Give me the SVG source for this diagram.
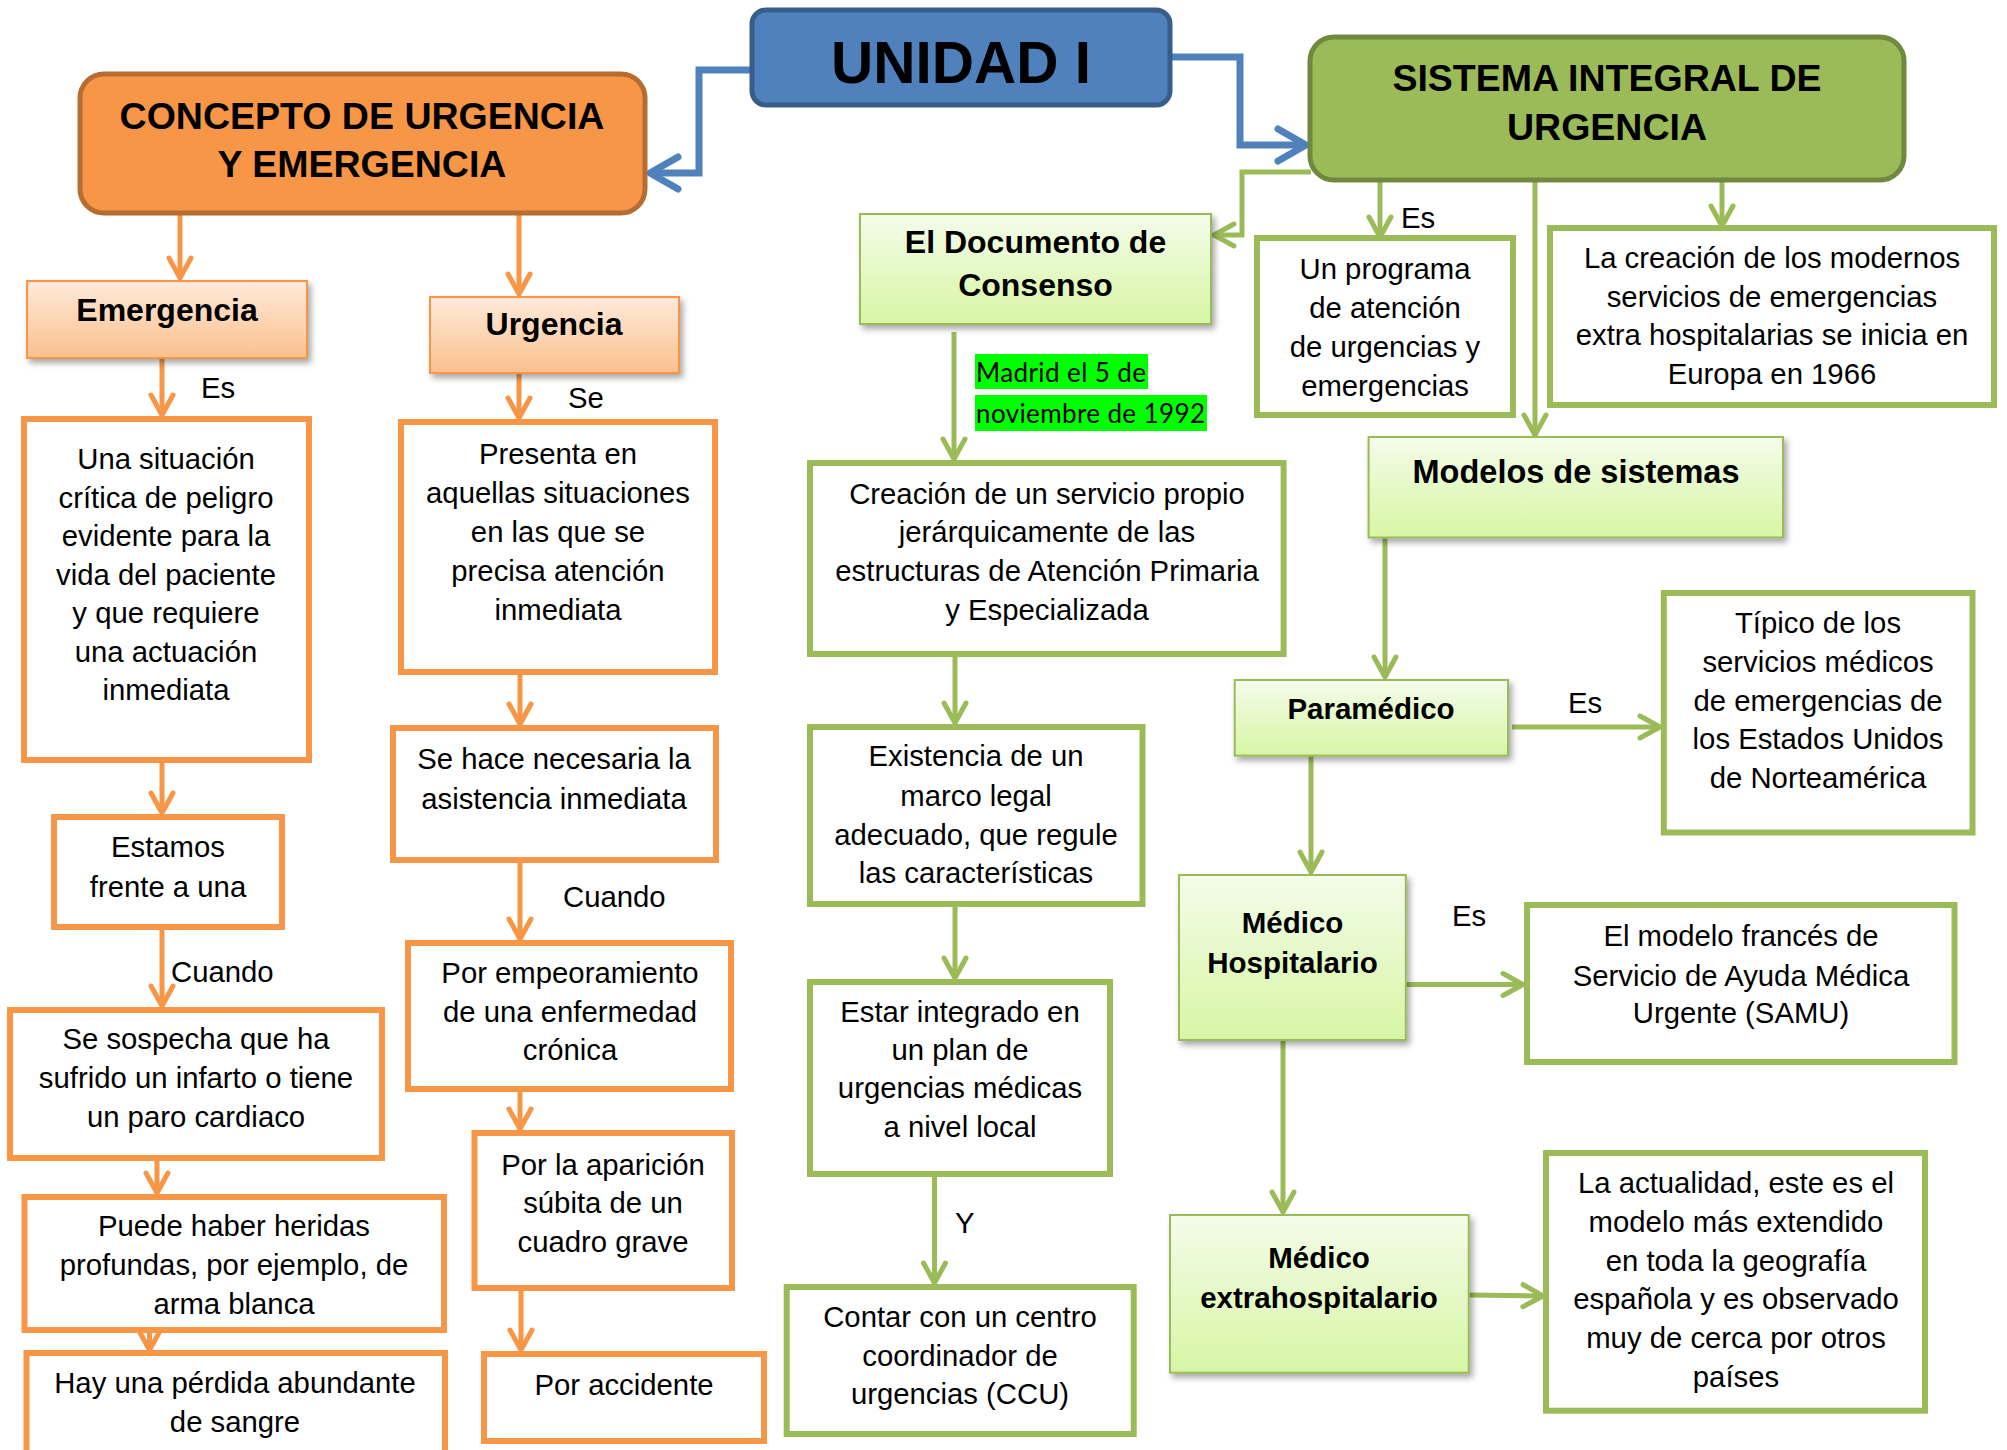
<svg xmlns="http://www.w3.org/2000/svg" width="2007" height="1450" viewBox="0 0 2007 1450">
<defs>
<style>
text{font-family:"Liberation Sans",Arial,sans-serif;fill:#000;text-anchor:middle}
.r{font-size:29.3px}
.b{font-size:32px;font-weight:bold}
.bs{font-size:29.5px;font-weight:bold}
.t{font-size:37.5px;font-weight:bold}
.lbl{font-size:29.3px;text-anchor:start}
.ow{fill:#fff;stroke:#F79646;stroke-width:6}
.gw{fill:#fff;stroke:#9BBB59;stroke-width:6}
.og{fill:url(#gOr);stroke:#F79646;stroke-width:2;filter:url(#sh)}
.gg{fill:url(#gGr);stroke:#9BBB59;stroke-width:2;filter:url(#sh)}
.co{fill:none;stroke:#F79646;stroke-width:5;marker-end:url(#ao)}
.cg{fill:none;stroke:#9BBB59;stroke-width:5;marker-end:url(#ag)}
.cb{fill:none;stroke:#4F81BD;stroke-width:7;marker-end:url(#ab)}
.hl{fill:#00FF00}
.hlt{font-family:Lato,"Open Sans",sans-serif;font-size:26px;text-anchor:start}
</style>
<linearGradient id="gOr" x1="0" y1="0" x2="0" y2="1">
<stop offset="0" stop-color="#FEEADB"/>
<stop offset="1" stop-color="#FBC08C"/>
</linearGradient>
<linearGradient id="gGr" x1="0" y1="0" x2="0" y2="1">
<stop offset="0" stop-color="#F4FCEA"/>
<stop offset="1" stop-color="#D7F6A4"/>
</linearGradient>
<filter id="sh" x="-10%" y="-10%" width="125%" height="130%">
<feDropShadow dx="3" dy="4" stdDeviation="3" flood-color="#000" flood-opacity="0.35"/>
</filter>
<marker id="ao" markerUnits="userSpaceOnUse" markerWidth="40" markerHeight="40" refX="30" refY="20" orient="auto" overflow="visible">
<path d="M10,9 L30,20 L10,31" fill="none" stroke="#F79646" stroke-width="5" stroke-linecap="round" stroke-linejoin="round"/>
</marker>
<marker id="ag" markerUnits="userSpaceOnUse" markerWidth="40" markerHeight="40" refX="30" refY="20" orient="auto" overflow="visible">
<path d="M10,9 L30,20 L10,31" fill="none" stroke="#9BBB59" stroke-width="5" stroke-linecap="round" stroke-linejoin="round"/>
</marker>
<marker id="ab" markerUnits="userSpaceOnUse" markerWidth="50" markerHeight="50" refX="40" refY="25" orient="auto" overflow="visible">
<path d="M12,9 L40,25 L12,41" fill="none" stroke="#4F81BD" stroke-width="7" stroke-linecap="round" stroke-linejoin="round"/>
</marker>
</defs>
<rect width="2007" height="1450" fill="#fff"/>

<g id="connectors">
<path class="cb" d="M752 70 H699 V173 H650"/>
<path class="cb" d="M1170 57 H1240 V145 H1306"/>
<path class="cg" d="M1311 172 H1242 V235 H1214"/>
<path class="cg" d="M1380 180 V237"/>
<path class="cg" d="M1535 180 V435"/>
<path class="cg" d="M1722 180 V226"/>
<path class="cg" d="M954 332 V459"/>
<path class="cg" d="M955 654 V723"/>
<path class="cg" d="M955 904 V978"/>
<path class="cg" d="M934.5 1174 V1283"/>
<path class="cg" d="M1385 537 V677"/>
<path class="cg" d="M1512 727 H1660"/>
<path class="cg" d="M1311 756 V872"/>
<path class="cg" d="M1406 984.5 H1523"/>
<path class="cg" d="M1283 1040 V1212"/>
<path class="cg" d="M1469 1295 L1543 1296"/>
<path class="co" d="M180 213 V278"/>
<path class="co" d="M519 213 V294"/>
<path class="co" d="M162 358 V415"/>
<path class="co" d="M519 373 V418"/>
<path class="co" d="M162 760 V813"/>
<path class="co" d="M162 927 V1006"/>
<path class="co" d="M157 1158 V1193"/>
<path class="co" d="M149.5 1330 V1350"/>
<path class="co" d="M520 672 V724"/>
<path class="co" d="M520 860 V939"/>
<path class="co" d="M520 1089 V1129"/>
<path class="co" d="M521 1288 V1350"/>
<text class="lbl" x="201" y="398">Es</text>
<text class="lbl" x="568" y="408">Se</text>
<text class="lbl" x="171" y="982">Cuando</text>
<text class="lbl" x="563" y="907">Cuando</text>
<text class="lbl" x="1401" y="228">Es</text>
<text class="lbl" x="955" y="1233">Y</text>
<text class="lbl" x="1568" y="713">Es</text>
<text class="lbl" x="1452" y="926">Es</text>
</g>

<g id="unidad">
<rect x="752" y="10" width="418" height="95" rx="14" fill="#4F81BD" stroke="#385D8A" stroke-width="5"/>
<text x="961" y="83" style="font-size:58.5px;font-weight:bold">UNIDAD I</text>
</g>
<g id="concepto">
<rect x="80" y="74" width="565" height="139" rx="24" fill="#F79646" stroke="#B66D31" stroke-width="5"/>
<text class="t" x="362" y="129">CONCEPTO DE URGENCIA</text>
<text class="t" x="362" y="177">Y EMERGENCIA</text>
</g>
<g id="sistema">
<rect x="1310" y="37" width="594" height="143" rx="24" fill="#9BBB59" stroke="#71893F" stroke-width="5"/>
<text class="t" x="1607" y="91">SISTEMA INTEGRAL DE</text>
<text class="t" x="1607" y="140">URGENCIA</text>
</g>

<g id="emergencia">
<rect class="og" x="27" y="281" width="280" height="77"/>
<text class="b" x="167" y="321">Emergencia</text>
</g>
<g id="urgencia">
<rect class="og" x="430" y="297" width="249" height="76"/>
<text class="b" x="554" y="335">Urgencia</text>
</g>
<g id="situacion">
<rect class="ow" x="24" y="419" width="285" height="341"/>
<text class="r" x="166" y="469">Una situación</text>
<text class="r" x="166" y="507.5">crítica de peligro</text>
<text class="r" x="166" y="546">evidente para la</text>
<text class="r" x="166" y="585">vida del paciente</text>
<text class="r" x="166" y="623">y que requiere</text>
<text class="r" x="166" y="662">una actuación</text>
<text class="r" x="166" y="700">inmediata</text>
</g>
<g id="estamos">
<rect class="ow" x="54" y="817" width="228" height="110"/>
<text class="r" x="168" y="857">Estamos</text>
<text class="r" x="168" y="897">frente a una</text>
</g>
<g id="sospecha">
<rect class="ow" x="10" y="1010" width="372" height="148"/>
<text class="r" x="196" y="1049">Se sospecha que ha</text>
<text class="r" x="196" y="1088">sufrido un infarto o tiene</text>
<text class="r" x="196" y="1127">un paro cardiaco</text>
</g>
<g id="heridas">
<rect class="ow" x="24.5" y="1197" width="419.5" height="133"/>
<text class="r" x="234" y="1236">Puede haber heridas</text>
<text class="r" x="234" y="1275">profundas, por ejemplo, de</text>
<text class="r" x="234" y="1314">arma blanca</text>
</g>
<g id="perdida">
<rect class="ow" x="26.5" y="1353" width="418.5" height="110"/>
<text class="r" x="235" y="1393">Hay una pérdida abundante</text>
<text class="r" x="235" y="1432">de sangre</text>
</g>
<g id="presenta">
<rect class="ow" x="401" y="422" width="314" height="250"/>
<text class="r" x="558" y="464">Presenta en</text>
<text class="r" x="558" y="503">aquellas situaciones</text>
<text class="r" x="558" y="542">en las que se</text>
<text class="r" x="558" y="581">precisa atención</text>
<text class="r" x="558" y="620">inmediata</text>
</g>
<g id="sehace">
<rect class="ow" x="393" y="728" width="323" height="132"/>
<text class="r" x="554" y="769">Se hace necesaria la</text>
<text class="r" x="554" y="809">asistencia inmediata</text>
</g>
<g id="empeoramiento">
<rect class="ow" x="408" y="943" width="323" height="146"/>
<text class="r" x="570" y="983">Por empeoramiento</text>
<text class="r" x="570" y="1022">de una enfermedad</text>
<text class="r" x="570" y="1060">crónica</text>
</g>
<g id="aparicion">
<rect class="ow" x="474.5" y="1133" width="257.5" height="155"/>
<text class="r" x="603" y="1175">Por la aparición</text>
<text class="r" x="603" y="1213">súbita de un</text>
<text class="r" x="603" y="1252">cuadro grave</text>
</g>
<g id="accidente">
<rect class="ow" x="484" y="1354" width="280" height="87"/>
<text class="r" x="624" y="1395">Por accidente</text>
</g>

<g id="documento">
<rect class="gg" x="860" y="214" width="351" height="110"/>
<text class="b" x="1035.5" y="253">El Documento de</text>
<text class="b" x="1035.5" y="296">Consenso</text>
</g>
<g id="madrid">
<rect class="hl" x="975" y="354" width="173" height="35"/>
<rect class="hl" x="975" y="395" width="232" height="36"/>
<text class="hlt" x="976" y="382" textLength="170">Madrid el 5 de</text>
<text class="hlt" x="976" y="423" textLength="229">noviembre de 1992</text>
</g>
<g id="programa">
<rect class="gw" x="1257" y="238" width="256" height="177"/>
<text class="r" x="1385" y="279">Un programa</text>
<text class="r" x="1385" y="318">de atención</text>
<text class="r" x="1385" y="357">de urgencias y</text>
<text class="r" x="1385" y="396">emergencias</text>
</g>
<g id="modernos">
<rect class="gw" x="1550" y="228" width="444" height="177"/>
<text class="r" x="1772" y="268">La creación de los modernos</text>
<text class="r" x="1772" y="307">servicios de emergencias</text>
<text class="r" x="1772" y="345">extra hospitalarias se inicia en</text>
<text class="r" x="1772" y="384">Europa en 1966</text>
</g>
<g id="creacion">
<rect class="gw" x="810" y="463" width="473.6" height="191"/>
<text class="r" x="1047" y="504">Creación de un servicio propio</text>
<text class="r" x="1047" y="542">jerárquicamente de las</text>
<text class="r" x="1047" y="581">estructuras de Atención Primaria</text>
<text class="r" x="1047" y="620">y Especializada</text>
</g>
<g id="existencia">
<rect class="gw" x="810" y="727" width="332.5" height="177"/>
<text class="r" x="976" y="766">Existencia de un</text>
<text class="r" x="976" y="806">marco legal</text>
<text class="r" x="976" y="845">adecuado, que regule</text>
<text class="r" x="976" y="883">las características</text>
</g>
<g id="integrado">
<rect class="gw" x="810" y="982" width="300" height="192"/>
<text class="r" x="960" y="1022">Estar integrado en</text>
<text class="r" x="960" y="1060">un plan de</text>
<text class="r" x="960" y="1098">urgencias médicas</text>
<text class="r" x="960" y="1137">a nivel local</text>
</g>
<g id="contar">
<rect class="gw" x="786.7" y="1287" width="347" height="147"/>
<text class="r" x="960" y="1327">Contar con un centro</text>
<text class="r" x="960" y="1366">coordinador de</text>
<text class="r" x="960" y="1404">urgencias (CCU)</text>
</g>
<g id="modelos">
<rect class="gg" x="1368.6" y="437" width="414.4" height="100.5"/>
<text class="b" x="1576" y="483" style="font-size:32.5px">Modelos de sistemas</text>
</g>
<g id="paramedico">
<rect class="gg" x="1234.7" y="680" width="273.3" height="75.6"/>
<text class="bs" x="1371" y="718.5">Paramédico</text>
</g>
<g id="tipico">
<rect class="gw" x="1663.8" y="593" width="308.7" height="239.5"/>
<text class="r" x="1818" y="633">Típico de los</text>
<text class="r" x="1818" y="672">servicios médicos</text>
<text class="r" x="1818" y="711">de emergencias de</text>
<text class="r" x="1818" y="749">los Estados Unidos</text>
<text class="r" x="1818" y="788">de Norteamérica</text>
</g>
<g id="hospitalario">
<rect class="gg" x="1179" y="875" width="226.8" height="165"/>
<text class="bs" x="1292.5" y="933">Médico</text>
<text class="bs" x="1292.5" y="973">Hospitalario</text>
</g>
<g id="frances">
<rect class="gw" x="1527" y="905" width="427.5" height="157"/>
<text class="r" x="1741" y="946">El modelo francés de</text>
<text class="r" x="1741" y="985.6">Servicio de Ayuda Médica</text>
<text class="r" x="1741" y="1023">Urgente (SAMU)</text>
</g>
<g id="extrahospitalario">
<rect class="gg" x="1170" y="1215" width="298.7" height="157.7"/>
<text class="bs" x="1319" y="1268">Médico</text>
<text class="bs" x="1319" y="1308">extrahospitalario</text>
</g>
<g id="actualidad">
<rect class="gw" x="1546" y="1153" width="379" height="257.7"/>
<text class="r" x="1736" y="1193">La actualidad, este es el</text>
<text class="r" x="1736" y="1232">modelo más extendido</text>
<text class="r" x="1736" y="1271">en toda la geografía</text>
<text class="r" x="1736" y="1309">española y es observado</text>
<text class="r" x="1736" y="1348">muy de cerca por otros</text>
<text class="r" x="1736" y="1387">países</text>
</g>
</svg>
